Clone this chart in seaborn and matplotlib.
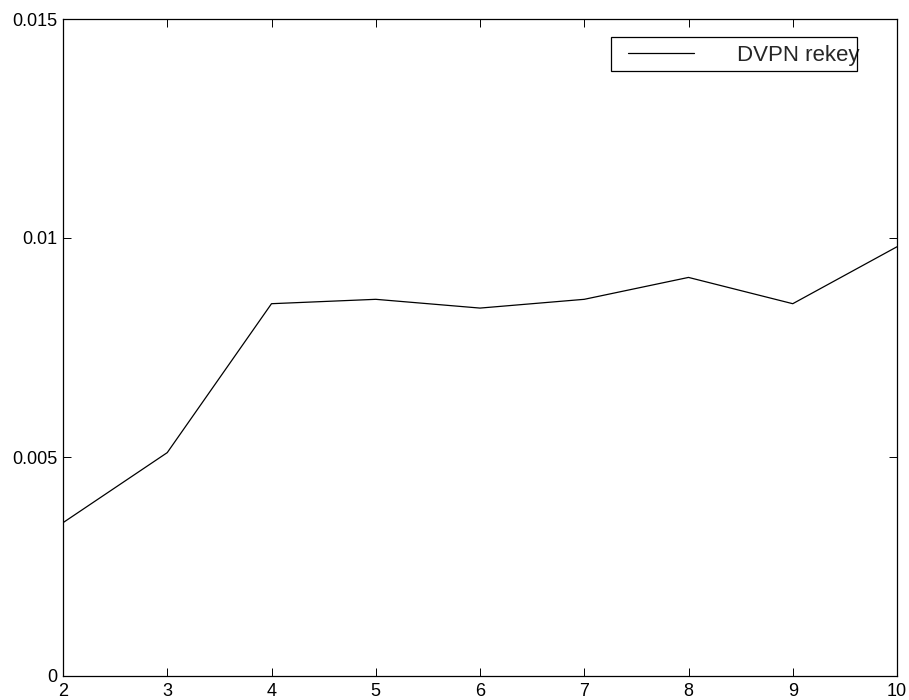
import matplotlib
matplotlib.use("Agg")
import matplotlib.pyplot as plt
from matplotlib.patches import Rectangle
import seaborn as sns
import pandas as pd

# Rekey time measurements
group_sizes = [2, 3, 4, 5, 6, 7, 8, 9, 10]
rekey_times = [0.0035, 0.0051, 0.0085, 0.0086, 0.0084, 0.0086, 0.0091, 0.0085, 0.0098]
series_label = "DVPN rekey"
x_ticks = [2, 3, 4, 5, 6, 7, 8, 9, 10]
y_ticks = [0, 0.005, 0.01, 0.015]
y_tick_labels = ["0", "0.005", "0.01", "0.015"]

sns.set_style("ticks")
plt.rcParams["font.family"] = ["Liberation Sans", "DejaVu Sans"]

df = pd.DataFrame({"n": group_sizes, "t": rekey_times})

fig = plt.figure(figsize=(9.09, 7.0), dpi=100)
ax = fig.add_axes([63 / 909, 24 / 700, 834 / 909, 657 / 700])

sns.lineplot(data=df, x="n", y="t", ax=ax, color="black", linewidth=0.9,
             label=series_label)

ax.set_xlim(2, 10)
ax.set_ylim(0, 0.015)
ax.set_xticks(x_ticks)
ax.set_xticklabels([str(v) for v in x_ticks])
ax.set_yticks(y_ticks)
ax.set_yticklabels(y_tick_labels)
ax.set_xlabel("")
ax.set_ylabel("")

for side in ["left", "right", "top", "bottom"]:
    ax.spines[side].set_visible(True)
    ax.spines[side].set_color("black")
    ax.spines[side].set_linewidth(0.9)

ax.tick_params(axis="both", which="both", direction="in", length=6, width=0.7,
               top=True, right=True, labelsize=13, colors="black")
ax.tick_params(axis="x", pad=5)
ax.tick_params(axis="y", pad=4)

# Legend: text entry with a plain rectangular box
leg = ax.legend(loc="center left", bbox_to_anchor=(628 / 909, 1 - 55 / 700),
                bbox_transform=fig.transFigure, frameon=False,
                fontsize=16, handlelength=2.97, handletextpad=1.94,
                borderpad=0, borderaxespad=0)
for line in leg.get_lines():
    line.set_linewidth(0.9)

fig.add_artist(Rectangle((611 / 909, 1 - 71 / 700), 246 / 909, 34 / 700,
                         transform=fig.transFigure, fill=False,
                         edgecolor="black", linewidth=0.9))

fig.savefig("out.png", dpi=100)
